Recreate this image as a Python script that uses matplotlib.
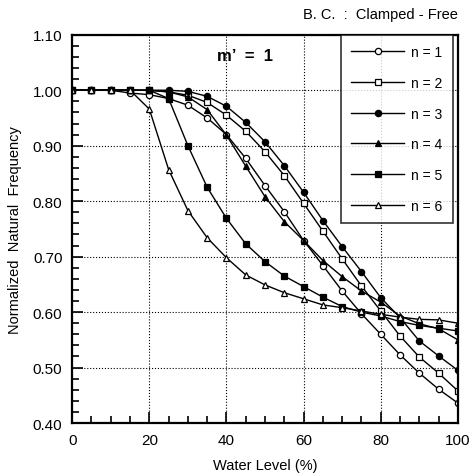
import matplotlib
matplotlib.use("Agg")
import matplotlib.pyplot as plt
from matplotlib.ticker import MultipleLocator, FormatStrFormatter

plt.rcParams['font.family'] = ['Liberation Sans', 'DejaVu Sans']

# water level (%)
water_level = [0, 5, 10, 15, 20, 25, 30, 35, 40, 45, 50,
               55, 60, 65, 70, 75, 80, 85, 90, 95, 100]

# normalized natural frequency for each mode n
n1 = [1.00, 1.00, 1.00, 0.995, 0.992, 0.985, 0.973, 0.950, 0.920, 0.877, 0.828,
      0.781, 0.729, 0.684, 0.638, 0.597, 0.560, 0.523, 0.490, 0.461, 0.436]
n2 = [1.00, 1.00, 1.00, 1.00, 1.00, 0.997, 0.991, 0.978, 0.955, 0.926, 0.889,
      0.846, 0.796, 0.746, 0.696, 0.647, 0.602, 0.557, 0.519, 0.490, 0.458]
n3 = [1.00, 1.00, 1.00, 1.00, 1.00, 1.00, 0.998, 0.989, 0.971, 0.942, 0.907,
      0.864, 0.816, 0.765, 0.718, 0.673, 0.626, 0.590, 0.548, 0.521, 0.495]
n4 = [1.00, 1.00, 1.00, 1.00, 1.00, 0.997, 0.988, 0.965, 0.919, 0.863, 0.808,
      0.763, 0.729, 0.693, 0.664, 0.638, 0.618, 0.593, 0.579, 0.570, 0.550]
n5 = [1.00, 1.00, 1.00, 1.00, 1.00, 0.985, 0.900, 0.825, 0.769, 0.723, 0.691,
      0.665, 0.646, 0.627, 0.610, 0.600, 0.593, 0.583, 0.576, 0.571, 0.566]
n6 = [1.00, 1.00, 1.00, 1.00, 0.966, 0.857, 0.783, 0.734, 0.698, 0.667, 0.649,
      0.635, 0.624, 0.613, 0.608, 0.602, 0.596, 0.591, 0.587, 0.586, 0.580]

series = [n1, n2, n3, n4, n5, n6]
labels = ["n = 1", "n = 2", "n = 3", "n = 4", "n = 5", "n = 6"]
markers = ['o', 's', 'o', '^', 's', '^']
filled = [False, False, True, True, True, False]

fig = plt.figure(figsize=(4.75, 4.77), dpi=100)
ax = fig.add_axes([0.152, 0.111, 0.812, 0.814])

for y, lab, m, f in zip(series, labels, markers, filled):
    ax.plot(water_level, y, color='black', lw=1.0, marker=m, ms=4.5,
            mfc='black' if f else 'white', mec='black', mew=0.9, label=lab)

ax.set_xlim(0, 100)
ax.set_ylim(0.40, 1.10)
ax.xaxis.set_major_locator(MultipleLocator(20))
ax.xaxis.set_minor_locator(MultipleLocator(5))
ax.yaxis.set_major_locator(MultipleLocator(0.10))
ax.yaxis.set_minor_locator(MultipleLocator(0.02))
ax.yaxis.set_major_formatter(FormatStrFormatter('%.2f'))
ax.tick_params(which='both', direction='in', top=False, right=False,
               labelsize=11, width=1.2)
ax.tick_params(which='major', length=8, pad=7)
ax.tick_params(which='minor', length=5)
ax.grid(True, which='major', linestyle=':', color='black', lw=0.8)
for s in ax.spines.values():
    s.set_linewidth(1.6)

ax.set_xlabel("Water Level (%)", fontsize=10.5, labelpad=8)
ax.set_ylabel("Normalized  Natural  Frequency", fontsize=10.5, labelpad=8)

ax.text(0.448, 0.946, "m\u2019  =  1", transform=ax.transAxes, ha='center',
        va='center', fontsize=12, fontweight='bold')
fig.text(0.964, 0.968, "B. C.  :  Clamped - Free", ha='right', va='center',
         fontsize=10.5)

leg = ax.legend(loc='upper right', bbox_to_anchor=(0.987, 1.0),
                borderaxespad=0, frameon=True, fancybox=False,
                edgecolor='black', handlelength=3.8, labelspacing=1.2,
                fontsize=10, borderpad=0.75, handletextpad=0.5)
leg.get_frame().set_linewidth(1.2)

fig.savefig("out.png", dpi=100)
